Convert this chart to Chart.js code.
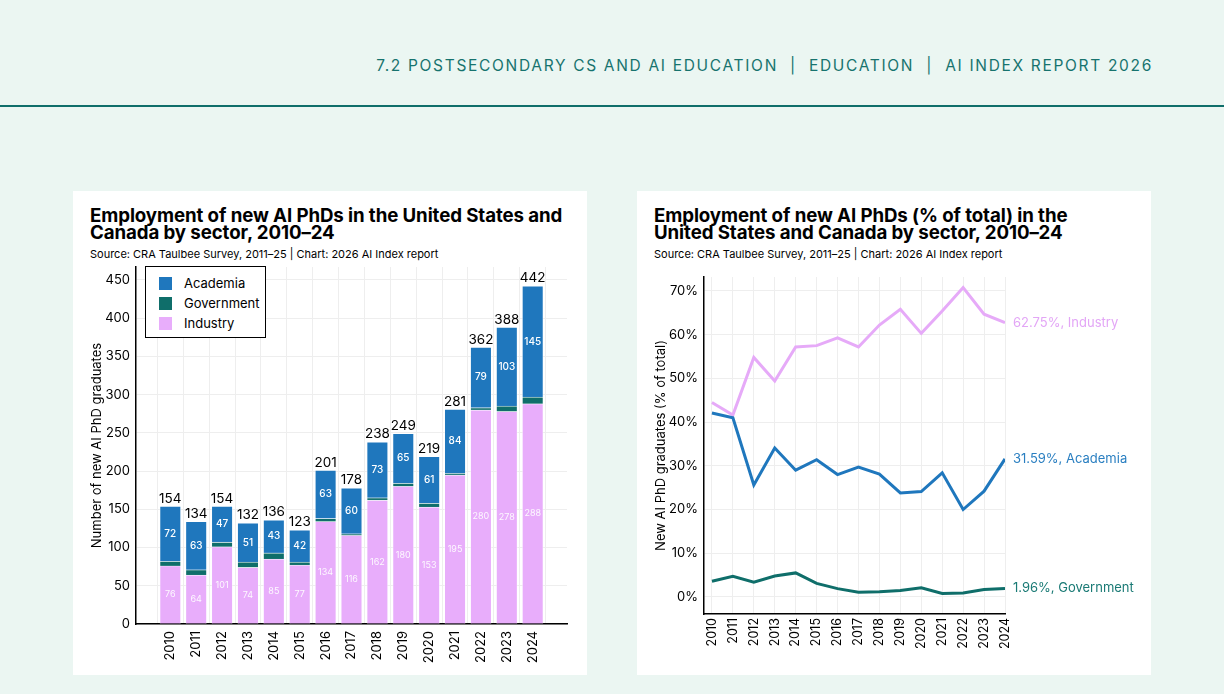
<!DOCTYPE html>
<html>
<head>
<meta charset="utf-8">
<script src="https://cdn.jsdelivr.net/npm/chart.js@4.4.1/dist/chart.umd.min.js"></script>
<style>
  body { margin: 0; width: 1224px; height: 694px; background: #ebf6f2; font-family: Inter, "Liberation Sans", sans-serif; position: relative; overflow: hidden; }
  .header { position: absolute; right: 71px; top: 56px; color: #17736e; font-size: 15.5px; letter-spacing: 1.68px; white-space: pre; }
  .rule { position: absolute; left: 0; top: 105px; width: 1224px; height: 2px; background: #0f6e6a; }
  .card { position: absolute; top: 191px; width: 514px; height: 484px; background: #fff; }
  .card canvas { position: absolute; left: 0; top: 0; }
  .title { position: absolute; left: 17px; top: 16px; font-weight: 700; font-size: 18.7px; line-height: 17px; color: #000; letter-spacing: -0.1px; }
  .source { position: absolute; left: 17px; top: 56px; font-size: 11px; color: #000; }
  .legend { position: absolute; left: 72px; top: 75px; width: 119px; height: 70px; border: 1.5px solid #000; background: #fff; z-index: 2; font-size: 13px; }
  .legend div { position: absolute; left: 38px; }
  .legend span { position: absolute; left: -25px; top: 2px; width: 13px; height: 13px; }
</style>
</head>
<body>
<div class="header">7.2 POSTSECONDARY CS AND AI EDUCATION  |  EDUCATION  |  AI INDEX REPORT 2026</div>
<div class="rule"></div>

<div class="card" style="left:73px">
  <div class="title">Employment of new AI PhDs in the United States and<br>Canada by sector, 2010–24</div>
  <div class="source">Source: CRA Taulbee Survey, 2011–25 | Chart: 2026 AI Index report</div>
  <div class="legend">
    <div style="top:8px"><span style="background:#1f77bd"></span>Academia</div>
    <div style="top:28px"><span style="background:#0f6e6a"></span>Government</div>
    <div style="top:48px"><span style="background:#e8adfb"></span>Industry</div>
  </div>
  <canvas id="bars" width="514" height="484"></canvas>
</div>

<div class="card" style="left:637px">
  <div class="title">Employment of new AI PhDs (% of total) in the<br>United States and Canada by sector, 2010–24</div>
  <div class="source">Source: CRA Taulbee Survey, 2011–25 | Chart: 2026 AI Index report</div>
  <canvas id="lines" width="514" height="484"></canvas>
</div>

<script>
// Years on both charts
const years = [2010, 2011, 2012, 2013, 2014, 2015, 2016, 2017, 2018, 2019, 2020, 2021, 2022, 2023, 2024];

// Left chart: counts by sector
const academia   = [72, 63, 47, 51, 43, 42, 63, 60, 73, 65, 61, 84, 79, 103, 145];
const government = [6, 7, 6, 7, 8, 4, 4, 2, 3, 4, 5, 2, 3, 7, 9];
const industry   = [76, 64, 101, 74, 85, 77, 134, 116, 162, 180, 153, 195, 280, 278, 288];
const totals     = [154, 134, 154, 132, 136, 123, 201, 178, 238, 249, 219, 281, 362, 388, 442];
const countTicks = [0, 50, 100, 150, 200, 250, 300, 350, 400, 450];

// Right chart: share of total (%)
const academiaPct   = [42.1, 41.0, 25.6, 34.1, 29.0, 31.4, 28.0, 29.7, 28.1, 23.8, 24.1, 28.4, 20.0, 24.2, 31.59];
const governmentPct = [3.6, 4.7, 3.4, 4.8, 5.5, 3.1, 1.9, 1.1, 1.2, 1.5, 2.1, 0.8, 0.9, 1.7, 1.96];
const industryPct   = [44.5, 41.6, 54.8, 49.4, 57.2, 57.5, 59.3, 57.2, 62.2, 65.8, 60.3, 65.4, 70.8, 64.7, 62.75];
const pctTicks = [0, 10, 20, 30, 40, 50, 60, 70];

const BLUE = '#1f77bd', TEAL = '#0f6e6a', PINK = '#e8adfb';
const FONT = 'Inter, "Liberation Sans", sans-serif';
const GRID = '#eeeeee';

Chart.defaults.font.family = FONT;
Chart.defaults.color = '#000';

const pts = arr => arr.map((v, i) => ({ x: years[i], y: v }));

// bar labels: value inside academia / industry segments, totals above
// datasets are stacked bottom-up: industry (0), government (1), academia (2)
const barLabels = {
  id: 'barLabels',
  afterDatasetsDraw(chart) {
    const ctx = chart.ctx;
    const mI = chart.getDatasetMeta(0), mA = chart.getDatasetMeta(2);
    ctx.save();
    ctx.textAlign = 'center';
    years.forEach((y, i) => {
      const a = mA.data[i], ind = mI.data[i];
      ctx.textBaseline = 'middle';
      ctx.fillStyle = '#fff';
      ctx.font = '500 10px ' + FONT;
      ctx.fillText(academia[i], a.x, (a.y + a.base) / 2);
      ctx.fillStyle = 'rgba(255,255,255,0.92)';
      ctx.font = '9px ' + FONT;
      ctx.fillText(industry[i], ind.x, (ind.y + ind.base) / 2);
      ctx.fillStyle = '#000';
      ctx.font = '13.5px ' + FONT;
      ctx.textBaseline = 'bottom';
      ctx.fillText(totals[i], a.x, a.y - 1);
    });
    ctx.restore();
  }
};

new Chart(document.getElementById('bars'), {
  type: 'bar',
  data: {
    datasets: [
      { label: 'Industry', data: pts(industry), backgroundColor: PINK },
      { label: 'Government', data: pts(government), backgroundColor: TEAL },
      { label: 'Academia', data: pts(academia), backgroundColor: BLUE }
    ].map(d => Object.assign(d, { stack: 's', barThickness: 21, borderWidth: 0.8, borderColor: 'rgba(255,255,255,0.55)' }))
  },
  options: {
    responsive: false,
    animation: false,
    layout: { padding: { left: 0, top: 76, right: 20, bottom: 0 } },
    plugins: { legend: { display: false }, tooltip: { enabled: false } },
    scales: {
      x: {
        type: 'linear', stacked: true, min: 2009.23, max: 2024.77,
        afterBuildTicks: s => { s.ticks = years.map(v => ({ value: v })); },
        afterFit: s => { s.height = 51; },
        grid: { color: GRID, drawTicks: false },
        border: { color: '#000', width: 1.5 },
        ticks: { minRotation: 90, maxRotation: 90, padding: 7, font: { size: 13 }, callback: v => String(v) }
      },
      y: {
        stacked: true, min: 0, max: 467,
        afterBuildTicks: s => { s.ticks = countTicks.map(v => ({ value: v })); },
        afterFit: s => { s.width = 63; },
        grid: { color: GRID, drawTicks: false },
        border: { color: '#000', width: 1.5 },
        ticks: { padding: 6, font: { size: 13 } },
        title: { display: true, text: 'Number of new AI PhD graduates', font: { size: 13 }, padding: { top: 16, bottom: 0 } }
      }
    }
  },
  plugins: [barLabels]
});

// end labels for the line chart
const endLabels = {
  id: 'endLabels',
  afterDatasetsDraw(chart) {
    const ctx = chart.ctx;
    ctx.save();
    ctx.font = '13px ' + FONT;
    ctx.textBaseline = 'middle';
    ctx.textAlign = 'left';
    chart.data.datasets.forEach((d, di) => {
      const meta = chart.getDatasetMeta(di);
      const last = meta.data[meta.data.length - 1];
      const v = d.data[d.data.length - 1].y;
      ctx.fillStyle = d.labelColor;
      ctx.fillText(v.toFixed(2) + '%, ' + d.label, last.x + 8, last.y);
    });
    ctx.restore();
  }
};

new Chart(document.getElementById('lines'), {
  type: 'line',
  data: {
    datasets: [
      { label: 'Academia', data: pts(academiaPct), borderColor: BLUE, labelColor: '#2a7fc1' },
      { label: 'Government', data: pts(governmentPct), borderColor: TEAL, labelColor: '#1a7a75' },
      { label: 'Industry', data: pts(industryPct), borderColor: '#e6aaf8', labelColor: '#e3a6f6' }
    ].map(d => Object.assign(d, { borderWidth: 3, pointRadius: 0, tension: 0, fill: false }))
  },
  options: {
    responsive: false,
    animation: false,
    layout: { padding: { left: 0, top: 86, right: 146, bottom: 0 } },
    plugins: { legend: { display: false }, tooltip: { enabled: false } },
    scales: {
      x: {
        type: 'linear', min: 2009.62, max: 2024,
        afterBuildTicks: s => { s.ticks = years.map(v => ({ value: v })); },
        afterFit: s => { s.height = 61; },
        grid: { color: GRID, drawTicks: false },
        border: { color: '#000', width: 1.5 },
        ticks: { minRotation: 90, maxRotation: 90, padding: 4, font: { size: 12.5 }, callback: v => String(v) }
      },
      y: {
        min: -3.9, max: 73.2,
        afterBuildTicks: s => { s.ticks = pctTicks.map(v => ({ value: v })); },
        afterFit: s => { s.width = 67; },
        grid: { color: GRID, drawTicks: false },
        border: { color: '#000', width: 1.5 },
        ticks: { padding: 6, font: { size: 13 }, callback: v => v + '%' },
        title: { display: true, text: 'New AI PhD graduates (% of total)', font: { size: 13 }, padding: { top: 16, bottom: 0 } }
      }
    }
  },
  plugins: [endLabels]
});
</script>
</body>
</html>
